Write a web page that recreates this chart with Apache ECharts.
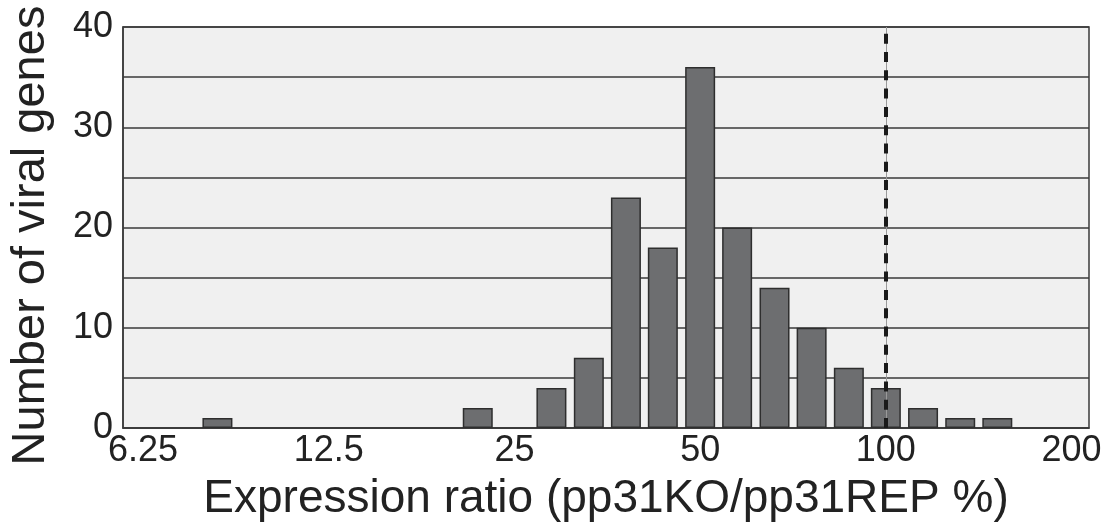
<!DOCTYPE html>
<html>
<head>
<meta charset="utf-8">
<script src="https://cdn.jsdelivr.net/npm/echarts@6/dist/echarts.min.js"></script>
<style>
html,body{margin:0;padding:0;background:#fff;}
#chart{width:1106px;height:523px;}
</style>
</head>
<body>
<div id="chart"></div>
<script>
// Histogram bins (centre of each bin, expression ratio %) and gene counts
var binCenters = [8.25, 21.8, 28.7, 33.0, 37.9, 43.5, 50.0, 57.4, 66.0, 75.8, 87.1, 100.0, 114.9, 132.0, 151.6];
var geneCounts = [1, 2, 4, 7, 23, 18, 36, 20, 14, 10, 6, 4, 2, 1, 1];
var tickLabels = ['6.25', '12.5', '25', '50', '100', '200'];
var tickValues = [6.25, 12.5, 25, 50, 100, 200];
var referenceLine = 100;

var BASE = 6.25;
// position on a log2 scale, in fifths of a doubling above 6.25
function pos(r) { return Math.log2(r / BASE) * 5; }

var barData = binCenters.map(function (c, i) { return [pos(c), geneCounts[i]]; });
var tickPos = tickValues.map(pos);

var font = '"Liberation Sans", Arial, sans-serif';
var chart = echarts.init(document.getElementById('chart'));
chart.setOption({
  animation: false,
  grid: {
    left: 123, right: 17, top: 27, bottom: 95,
    outerBoundsMode: 'none',
    containLabel: false,
    show: true, backgroundColor: '#f0f0f0', borderColor: '#3a3a3a', borderWidth: 1.5
  },
  xAxis: {
    type: 'value',
    min: pos(6.25) - 0.54,
    max: pos(200) + 0.47,
    name: 'Expression ratio (pp31KO/pp31REP %)',
    nameLocation: 'middle',
    nameGap: 48,
    nameTextStyle: { fontFamily: font, fontSize: 46, color: '#222' },
    axisLine: { show: true, onZero: false, lineStyle: { color: '#3a3a3a', width: 1.5 } },
    axisTick: { show: false },
    splitLine: { show: false },
    axisLabel: {
      customValues: tickPos,
      showMinLabel: true, showMaxLabel: true,
      fontFamily: font, fontSize: 36, color: '#222', margin: 5,
      formatter: function (v) {
        for (var i = 0; i < tickPos.length; i++) {
          if (Math.abs(tickPos[i] - v) < 1e-6) return tickLabels[i];
        }
        return '';
      }
    }
  },
  yAxis: {
    type: 'value',
    min: 0, max: 40, interval: 5,
    name: 'Number of viral genes',
    nameLocation: 'middle',
    nameGap: 68,
    nameTextStyle: { fontFamily: font, fontSize: 47, color: '#222', padding: [0, 16, 0, 0] },
    axisLine: { show: true, onZero: false, lineStyle: { color: '#3a3a3a', width: 1.5 } },
    axisTick: { show: false },
    splitLine: { show: true, lineStyle: { color: '#3a3a3a', width: 1.5 } },
    axisLabel: {
      fontFamily: font, fontSize: 36, color: '#222', margin: 10,
      formatter: function (v) { return v % 10 === 0 ? String(v) : ''; }
    }
  },
  series: [
    {
      type: 'line',
      data: [],
      z: 2,
      markLine: {
        silent: true,
        symbol: 'none',
        label: { show: false },
        data: [
          { xAxis: pos(referenceLine), lineStyle: { color: '#9a9a9a', width: 1, type: 'solid' } },
          { xAxis: pos(referenceLine), lineStyle: { color: '#1a1a1a', width: 4, type: [10, 8.3] } }
        ]
      }
    },
    {
      type: 'bar',
      data: barData,
      barWidth: 30,
      z: 3,
      itemStyle: { color: '#6d6e70', borderColor: '#2e2e2e', borderWidth: 1.5 }
    }
  ]
});
</script>
</body>
</html>
